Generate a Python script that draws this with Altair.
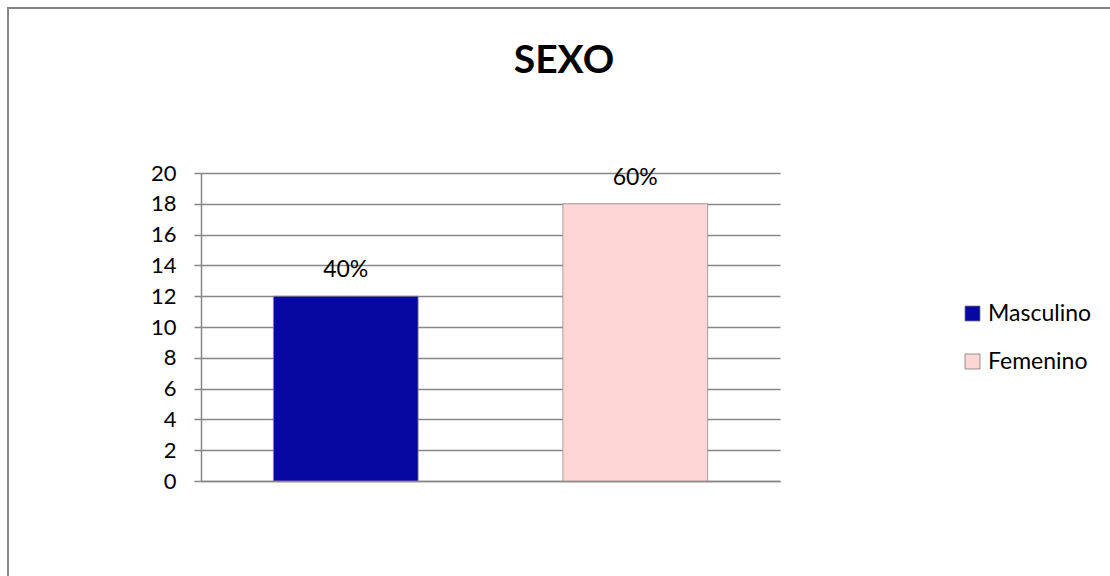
import altair as alt
import pandas as pd

categories = ["Masculino", "Femenino"]
values = [12, 18]
percent_labels = ["40%", "60%"]
colors = ["#0707A2", "#FFD6D6"]
title_text = ["SEXO"]
y_ticks = [0, 2, 4, 6, 8, 10, 12, 14, 16, 18, 20]

df = pd.DataFrame({"sexo": categories, "valor": values, "pct": percent_labels})
df_title = pd.DataFrame({"t": title_text})

FONT = "Lato"
GRAY = "#878787"

x_enc = alt.X("sexo:N", sort=categories,
              scale=alt.Scale(paddingInner=0.5, paddingOuter=0.25),
              axis=alt.Axis(title=None, labels=False, ticks=False, domain=True,
                            domainColor=GRAY, domainWidth=1.5))
y_enc = alt.Y("valor:Q", scale=alt.Scale(domain=[0, 20], nice=False),
              axis=alt.Axis(title=None, values=y_ticks,
                            labelOverlap=False,
                            grid=True, gridColor=GRAY, gridWidth=1.5,
                            domainColor=GRAY, domainWidth=1.5,
                            tickColor=GRAY, tickSize=7, tickWidth=1.5,
                            labelFont=FONT, labelFontSize=22, labelColor="#000000",
                            labelPadding=18))

bars = alt.Chart(df).mark_bar(stroke="#9a8a8a", strokeWidth=0.8).encode(
    x=x_enc,
    y=y_enc,
    color=alt.Color("sexo:N", sort=categories,
                    scale=alt.Scale(domain=categories, range=colors),
                    legend=alt.Legend(title=None, orient="none", legendX=760, legendY=129,
                                      symbolType="square", symbolSize=225,
                                      symbolStrokeWidth=0.8, symbolStrokeColor="#7a7a7a",
                                      labelFont=FONT, labelFontSize=23, labelColor="#000000",
                                      labelOffset=4, rowPadding=24)),
)

labels = alt.Chart(df).mark_text(baseline="alphabetic", dy=-19, font=FONT, fontSize=23,
                                 color="#000000").encode(
    x=x_enc,
    y=y_enc,
    text="pct:N",
)

title = alt.Chart(df_title).mark_text(baseline="alphabetic", align="center", font=FONT,
                                      fontSize=39, fontWeight="bold", color="#000000").encode(
    x=alt.value(363), y=alt.value(-100), text="t:N")

border_top = alt.Chart(df_title).mark_rule(color=GRAY, strokeWidth=2).encode(
    x=alt.value(-194), x2=alt.value(1000), y=alt.value(-165))
border_left = alt.Chart(df_title).mark_rule(color=GRAY, strokeWidth=2).encode(
    x=alt.value(-193), y=alt.value(-166), y2=alt.value(500))

chart = alt.layer(bars, labels, title, border_top, border_left).properties(
    width=579, height=308,
    autosize=alt.AutoSizeParams(type="none"),
    padding={"left": 201, "top": 173, "right": 330, "bottom": 95},
).configure_view(stroke=None)

chart.save("out.html", embed_options={"renderer": "svg", "actions": False})
